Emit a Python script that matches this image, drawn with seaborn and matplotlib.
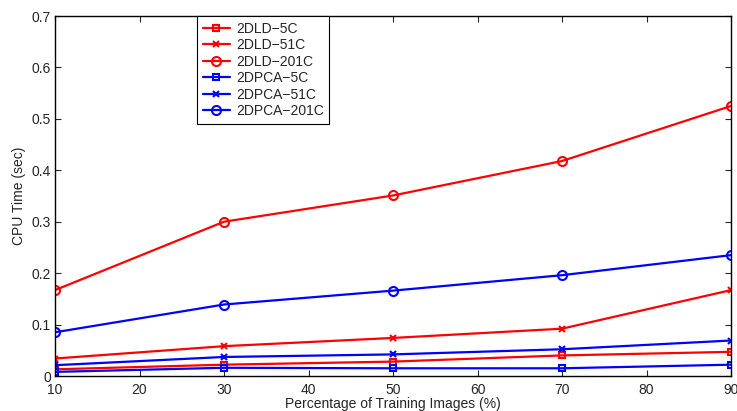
# ------------------------
# import packages
# ------------------------
import numpy as np
import pandas as pd
import matplotlib
matplotlib.use("Agg")
import matplotlib.pyplot as plt
import seaborn as sns

# ------------------------
# data
# ------------------------
train_pct = [10, 30, 50, 70, 90]

dld_5c = [0.013, 0.022, 0.028, 0.040, 0.047]
dld_51c = [0.034, 0.058, 0.074, 0.092, 0.167]
dld_201c = [0.167, 0.300, 0.351, 0.418, 0.525]
dpca_5c = [0.008, 0.016, 0.015, 0.015, 0.022]
dpca_51c = [0.021, 0.037, 0.042, 0.052, 0.069]
dpca_201c = [0.085, 0.139, 0.166, 0.196, 0.235]

series_names = ["2DLD\u22125C", "2DLD\u221251C", "2DLD\u2212201C",
                "2DPCA\u22125C", "2DPCA\u221251C", "2DPCA\u2212201C"]
series_values = [dld_5c, dld_51c, dld_201c, dpca_5c, dpca_51c, dpca_201c]
series_colors = ["#ff0000", "#ff0000", "#ff0000", "#0000ff", "#0000ff", "#0000ff"]
series_markers = ["s", "x", "o", "s", "x", "o"]

x_ticks = [10, 20, 30, 40, 50, 60, 70, 80, 90]
y_ticks = [0, 0.1, 0.2, 0.3, 0.4, 0.5, 0.6, 0.7]

# ------------------------
# plot
# ------------------------
sns.set_style("ticks")
plt.rcParams['font.family'] = ['Liberation Sans', 'DejaVu Sans']
plt.rcParams['xtick.direction'] = 'in'
plt.rcParams['ytick.direction'] = 'in'

fig = plt.figure(figsize=(7.37, 4.11), dpi=100)
ax = fig.add_axes([55 / 737, 1 - 376 / 411, 676 / 737, 360 / 411])

msize = {"s": 5, "x": 4, "o": 6.5}
for name, vals, col, mk in zip(series_names, series_values, series_colors, series_markers):
    df = pd.DataFrame({"pct": train_pct, "cpu": vals})
    sns.lineplot(data=df, x="pct", y="cpu", ax=ax, color=col, linewidth=1.6,
                 marker=mk, markersize=msize[mk], mfc="none",
                 mec=col, mew=1.5, label=name)

ax.set_xlim(10, 90)
ax.set_ylim(0, 0.7)
ax.set_xticks(x_ticks)
ax.set_yticks(y_ticks)
ax.set_yticklabels(["0" if v == 0 else f"{v:.1f}" for v in y_ticks])
ax.tick_params(axis="both", labelsize=10, length=4, width=0.8,
               top=True, right=True)
ax.tick_params(axis="x", pad=5)
ax.tick_params(axis="y", pad=3)
for s in ax.spines.values():
    s.set_linewidth(1.0)
    s.set_color("black")

ax.set_xlabel("Percentage of Training Images (%)", fontsize=10, labelpad=0)
ax.set_ylabel("CPU Time (sec)", fontsize=10, labelpad=4)

leg = ax.legend(loc="upper left", bbox_to_anchor=(0.21, 1.0), borderaxespad=0,
                fontsize=10, frameon=True, fancybox=False, framealpha=1,
                edgecolor="black", handlelength=2.0, labelspacing=0.18,
                handletextpad=0.4, borderpad=0.4)
leg.get_frame().set_linewidth(0.8)

fig.savefig("out.png", dpi=100)
